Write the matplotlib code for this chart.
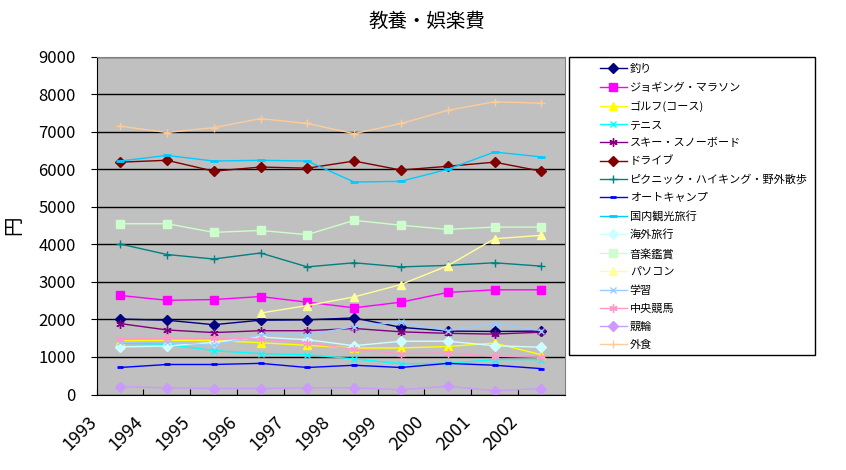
import matplotlib
matplotlib.use('Agg')
import matplotlib.pyplot as plt
import matplotlib.transforms as mtransforms
from matplotlib.patches import Rectangle
import numpy as np

plt.rcParams['font.family'] = ['Noto Sans CJK JP', 'DejaVu Sans']

years = ['1993', '1994', '1995', '1996', '1997', '1998', '1999', '2000', '2001', '2002']
nan = np.nan

# series values (yen)
tsuri = [2010, 1980, 1860, 1980, 1990, 2040, 1790, 1690, 1680, 1690]
jogging = [2640, 2510, 2530, 2610, 2460, 2310, 2460, 2720, 2790, 2790]
golf = [1430, 1440, 1440, 1380, 1310, 1240, 1240, 1280, 1370, 1060]
tennis = [1370, 1340, 1170, 1090, 1060, 950, 820, 830, 930, 930]
ski = [1890, 1720, 1650, 1700, 1700, 1760, 1670, 1630, 1610, 1660]
drive = [6190, 6240, 5950, 6060, 6030, 6220, 5980, 6080, 6190, 5950]
picnic = [4010, 3730, 3610, 3770, 3400, 3510, 3400, 3440, 3510, 3420]
autocamp = [720, 800, 800, 830, 720, 780, 720, 830, 780, 690]
kokunai = [6220, 6370, 6220, 6240, 6220, 5660, 5680, 6000, 6460, 6330]
kaigai = [1270, 1290, 1390, 1530, 1460, 1300, 1420, 1420, 1300, 1260]
ongaku = [4550, 4550, 4320, 4370, 4260, 4640, 4510, 4400, 4460, 4460]
pasokon = [nan, nan, nan, 2170, 2370, 2600, 2930, 3430, 4150, 4240]
gakushu = [1390, 1400, 1310, 1590, 1580, 1810, 1930, 1700, 1890, 1700]
keiba = [1480, 1500, 1500, 1480, 1380, 1200, 1090, 1110, 1020, 990]
keirin = [210, 180, 160, 160, 180, 180, 130, 220, 100, 160]
gaishoku = [7150, 6980, 7110, 7350, 7220, 6950, 7220, 7570, 7800, 7760]

star = (6, 2, 0)
series = [
    ('釣り', tsuri, '#000080', 'D', 5),
    ('ジョギング・マラソン', jogging, '#FF00FF', 's', 6),
    ('ゴルフ(コース)', golf, '#FFFF00', '^', 6),
    ('テニス', tennis, '#00FFFF', 'x', 5),
    ('スキー・スノーボード', ski, '#800080', star, 6),
    ('ドライブ', drive, '#800000', 'D', 5),
    ('ピクニック・ハイキング・野外散歩', picnic, '#008080', '+', 6),
    ('オートキャンプ', autocamp, '#0000FF', '_', 5),
    ('国内観光旅行', kokunai, '#00CCFF', '_', 6),
    ('海外旅行', kaigai, '#CCFFFF', 'D', 5),
    ('音楽鑑賞', ongaku, '#CCFFCC', 's', 6),
    ('パソコン', pasokon, '#FFFF99', '^', 6),
    ('学習', gakushu, '#99CCFF', 'x', 5),
    ('中央競馬', keiba, '#FF99CC', star, 6),
    ('競輪', keirin, '#CC99FF', 'D', 5),
    ('外食', gaishoku, '#FFCC99', '+', 6),
]

fig = plt.figure(figsize=(8.46, 4.70), dpi=100)
ax = fig.add_axes([0.1143, 0.1606, 0.5532, 0.7188])
ax.set_facecolor('#C0C0C0')

x = np.arange(len(years))
handles = []
for name, vals, col, mk, ms in series:
    mew = 2 if mk == '_' else 1
    ln, = ax.plot(x, vals, color=col, lw=1.0, marker=mk, markersize=ms,
                  markerfacecolor=col, markeredgecolor=col, markeredgewidth=mew, label=name)
    handles.append(ln)

ax.set_xlim(-0.5, 9.5)
ax.set_ylim(0, 9000)
ax.set_yticks(np.arange(0, 9001, 1000))
ax.yaxis.grid(True, color='black', lw=1)
ax.set_axisbelow(True)
ax.tick_params(axis='y', direction='out', length=4, labelsize=12, pad=11)

ax.set_xticks(np.arange(-0.5, 9.5, 1))
ax.set_xticklabels(years, rotation=45, ha='right', va='center', rotation_mode='anchor', fontsize=13)
ax.tick_params(axis='x', direction='in', length=4, pad=18)
shift = mtransforms.ScaledTranslation(-3 / 100, 0, fig.dpi_scale_trans)
for lab in ax.get_xticklabels():
    lab.set_transform(lab.get_transform() + shift)

for s in ['left', 'bottom']:
    ax.spines[s].set_color('black')
for s in ['top', 'right']:
    ax.spines[s].set_color('#808080')

ax.set_ylabel('円', fontsize=14, labelpad=10)
fig.text(0.505, 0.955, '教養・娯楽費', ha='center', va='center', fontsize=14)

# legend frame and entries
fig.patches.append(Rectangle((0.6726, 0.2447), 0.2908, 0.634, transform=fig.transFigure,
                             fill=False, edgecolor='black', lw=1))
fig.legend(handles=handles, loc='upper left', bbox_to_anchor=(0.709, 0.8636),
           frameon=False, fontsize=8, handlelength=2.43, handletextpad=0.27,
           labelspacing=0.71, borderpad=0, borderaxespad=0)

fig.savefig('out.png', dpi=100)
